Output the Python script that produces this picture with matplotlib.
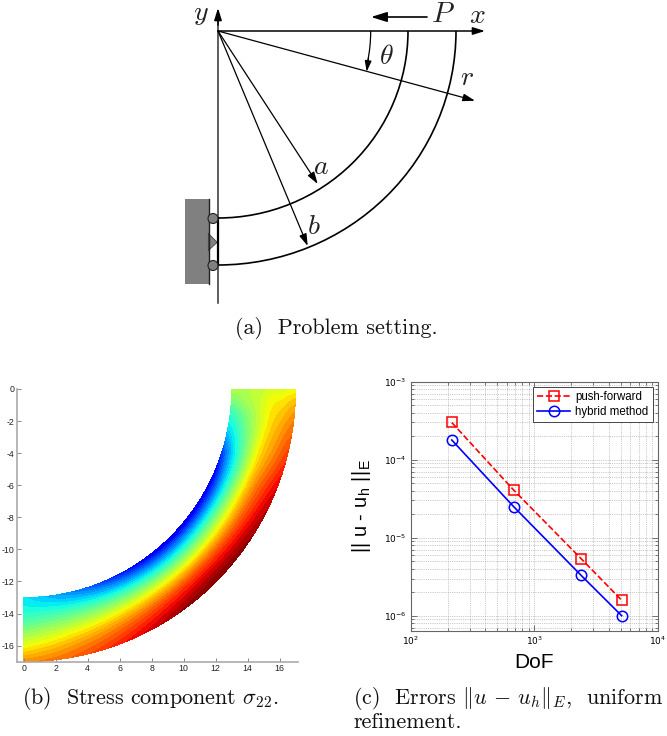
import numpy as np
import matplotlib
matplotlib.use("Agg")
import matplotlib.pyplot as plt
import matplotlib.tri as mtri
from matplotlib.patches import Arc, Rectangle, Circle, Polygon

# field, position on the jet scale per angle (deg) and radius
angles = [0, 3, 6, 10, 15, 20, 30, 45, 60, 70, 80, 90]
radii = [13, 14, 15, 16, 17]
stress = [
    [.56, .57, .59, .61, .63],
    [.50, .55, .61, .66, .71],
    [.42, .51, .61, .69, .76],
    [.36, .47, .61, .72, .80],
    [.24, .42, .62, .75, .85],
    [.14, .39, .63, .79, .90],
    [.10, .38, .65, .84, .96],
    [.08, .37, .65, .87, 1.0],
    [.13, .38, .63, .82, .94],
    [.20, .40, .60, .76, .87],
    [.28, .41, .56, .70, .80],
    [.35, .40, .50, .63, .76],
]
field_ticks_x = [0, 2, 4, 6, 8, 10, 12, 14, 16]
field_ticks_y = [0, -2, -4, -6, -8, -10, -12, -14, -16]

# panel (c)
dof = [215, 682, 2395, 5110]
err_push = [3.0e-4, 4.08e-5, 5.4e-6, 1.58e-6]
err_hybrid = [1.79e-4, 2.5e-5, 3.3e-6, 1.0e-6]

W, H = 667, 736


def axes_px(left, top, right, bottom):
    return fig.add_axes([left / W, 1 - bottom / H, (right - left) / W, (bottom - top) / H])


def arrow(ax, start, end, lw=1.0, size=9):
    ax.annotate("", xy=end, xytext=start,
                arrowprops=dict(arrowstyle="-|>,head_length=0.8,head_width=0.25", color="black",
                                lw=lw, shrinkA=0, shrinkB=0, mutation_scale=size))


plt.rcParams["mathtext.fontset"] = "cm"
plt.rcParams["axes.unicode_minus"] = False
fig = plt.figure(figsize=(W / 100, H / 100), dpi=100)

# sketch and captions in pixel coordinates
top = fig.add_axes([0, 0, 1, 1])
top.set_xlim(0, W)
top.set_ylim(H, 0)
top.axis("off")

ox, oy = 218, 31
top.add_patch(Rectangle((185, 199), 23.5, 85, fc="#808080", ec="none"))
top.plot([208.5, 208.5], [199, 284], color="#222222", lw=1)
top.plot([ox, ox], [303, 20], color="#333333", lw=1.1)
arrow(top, (ox, 25), (ox, 8), lw=1.1)
arrow(top, (ox, oy), (485, oy), lw=1.1)
arrow(top, (ox, oy), (475, 100.7), lw=.9)
arrow(top, (ox, oy), (317.7, 184), lw=.9)
arrow(top, (ox, oy), (307.7, 246), lw=.9)
arrow(top, (427, 17), (371, 17), lw=1.2, size=12)
top.add_patch(Arc((ox, oy), 380, 374, theta1=0, theta2=90, color="black", lw=1.2))
top.add_patch(Arc((ox, oy), 476, 468, theta1=0, theta2=90, color="black", lw=1.2))
top.add_patch(Arc((ox, oy), 305.4, 305.4, theta1=0, theta2=12, color="black", lw=.9))
arrow(top, (368.5, 58), (366.7, 71.7), lw=.9, size=8)
top.plot([ox, ox], [218, 265], color="black", lw=1.6)
top.add_patch(Polygon([(208.3, 233.3), (208.3, 250.7), (217.3, 242.3)], fc="#808080", ec="#333333", lw=.5))
top.add_patch(Circle((213, 218.5), 5, fc="#808080", ec="#222222", lw=.8, zorder=4))
top.add_patch(Circle((213, 265.5), 5, fc="#808080", ec="#222222", lw=.8, zorder=4))

for s, x, y, fs in [("y", 200.7, 13, 20), ("x", 477.7, 15, 20), ("P", 443, 14, 21),
                    (r"\theta", 386, 56, 20), ("r", 466.7, 77, 20), ("a", 320.7, 166, 20), ("b", 314, 226, 20)]:
    top.text(x, y, "$%s$" % s, fontsize=fs, ha="center", va="center", color="#222222")

for s, x, y in [("(a)  Problem setting.", 235, 329), (r"(b)  Stress component $\sigma_{22}$.", 22, 699),
                (r"(c)  Errors $\|u\,-\,u_h\|_E$,  uniform", 353, 699), ("refinement.", 353, 722)]:
    top.text(x, y, s, family="cmr10", fontsize=15.9, ha="left", va="center", color="#111111")

# (b) stress contours, smoothed by the triangulation refiner in (angle, radius)
axb = axes_px(17.3, 389, 298, 661.7)
R, T = np.meshgrid(radii, np.radians(angles))
grid = mtri.Triangulation(T.ravel() * 15, R.ravel())
fine, fine_z = mtri.UniformTriRefiner(grid).refine_field(np.array(stress).ravel(), subdiv=3)
fine_t = fine.x / 15
bent = mtri.Triangulation(fine.y * np.cos(fine_t), -fine.y * np.sin(fine_t), fine.triangles)
axb.tricontourf(bent, fine_z, levels=np.linspace(0, 1, 36), cmap="jet", vmin=0, vmax=1, extend="both")
axb.set_xlim(-0.4, 17.15)
axb.set_ylim(-17, 0)
axb.set_xticks(field_ticks_x)
axb.set_yticks(field_ticks_y)
axb.spines[["top", "right"]].set_visible(False)
axb.spines[["left", "bottom"]].set_color("#aaaaaa")
axb.spines[["left", "bottom"]].set_linewidth(1.2)
axb.tick_params(direction="in", labelsize=6.3, length=3, width=.7, color="#888888", pad=2, labelcolor="#222222")
for lab in axb.get_xticklabels() + axb.get_yticklabels():
    lab.set_family("Liberation Sans")

# (c) convergence
axc = axes_px(410.7, 381.7, 657.7, 630.7)
axc.loglog(dof, err_push, "--s", color="red", lw=1.2, ms=6.7, mfc="none", mew=1.1, label="push-forward")
axc.loglog(dof, err_hybrid, "-o", color="blue", lw=1.2, ms=7.5, mfc="none", mew=1.1, label="hybrid method")
axc.set_xlim(1e2, 1e4)
axc.set_ylim(10 ** -6.192, 1e-3)
axc.grid(which="both", linestyle=":", color="#999999", lw=.5)
axc.tick_params(which="both", direction="in", top=True, right=True, width=.5, color="#444444")
axc.tick_params(which="major", length=4, labelsize=6.5, pad=3)
axc.tick_params(which="minor", length=2)
for sp in axc.spines.values():
    sp.set_color("#666666")
    sp.set_linewidth(.8)
axc.set_xlabel("DoF", family="Liberation Sans", fontsize=15, labelpad=4)
axc.set_ylabel(r"|| u - u$_{\mathregular{h}}$ ||$_{\mathregular{E}}$", family="Liberation Sans", fontsize=14.5, labelpad=8)
leg = axc.legend(loc="upper right", bbox_to_anchor=(0.98, 0.98), borderaxespad=0, fancybox=False, framealpha=1,
                 edgecolor="#444444", prop={"family": "Liberation Sans", "size": 8.3}, handlelength=2.8,
                 labelspacing=.25, borderpad=.35, handletextpad=.5)
leg.get_frame().set_linewidth(.7)

fig.savefig("out.png", dpi=100)
